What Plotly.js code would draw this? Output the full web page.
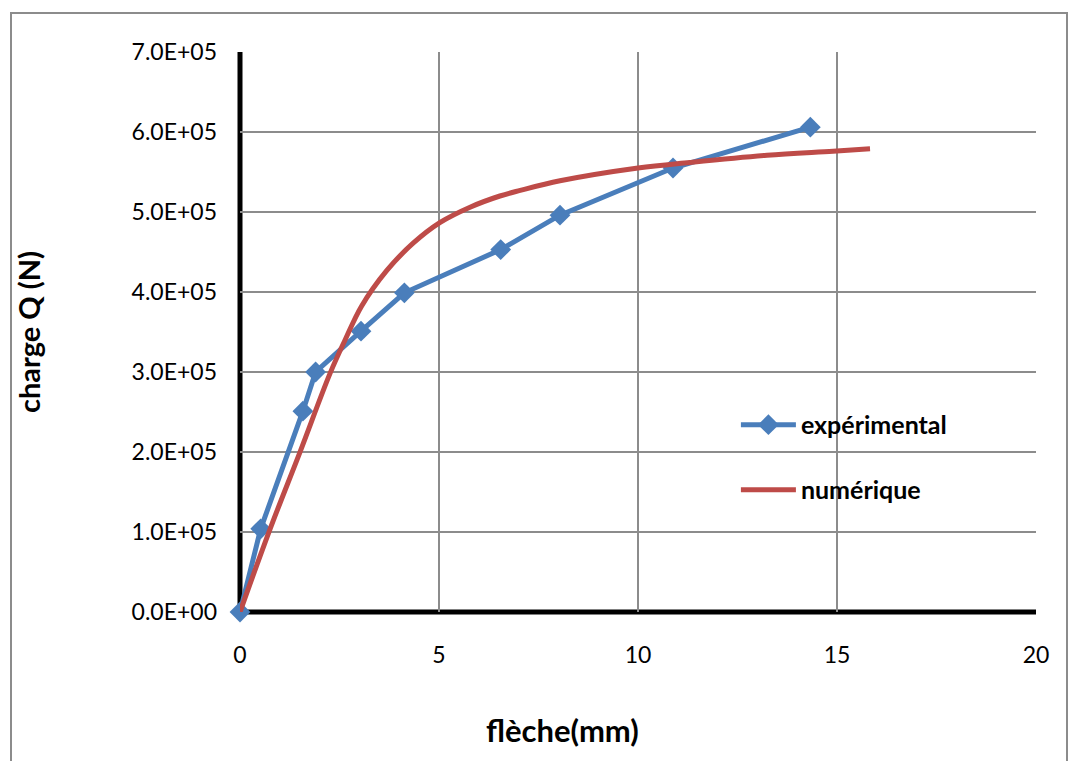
<!DOCTYPE html>
<html>
<head>
<meta charset="utf-8">
<script src="https://cdn.plot.ly/plotly-3.0.1.min.js"></script>
<style>html,body{margin:0;padding:0;background:#fff;}#chart{width:1069px;height:761px;}</style>
</head>
<body>
<div id="chart"></div>
<script>
// Experimental series
const expX = [0, 0.52, 1.58, 1.9, 3.04, 4.13, 6.55, 8.04, 10.88, 14.33];
const expY = [0, 1.04e5, 2.51e5, 3.0e5, 3.51e5, 3.99e5, 4.53e5, 4.96e5, 5.55e5, 6.06e5];
// Numerical series
const numX = [0, 0.75, 1.5, 2.26, 2.64, 3.05, 3.69, 4.35, 5.03, 5.78, 6.53, 7.04, 8.04, 10.0, 11.3, 13.24, 14.9, 15.83];
const numY = [0, 1.03e5, 1.99e5, 2.98e5, 3.40e5, 3.82e5, 4.27e5, 4.61e5, 4.87e5, 5.06e5, 5.2e5, 5.27e5, 5.39e5, 5.55e5, 5.62e5, 5.71e5, 5.76e5, 5.79e5];
// Ticks
const yTickVals = [0, 1e5, 2e5, 3e5, 4e5, 5e5, 6e5, 7e5];
const yTickText = ["0.0E+00", "1.0E+05", "2.0E+05", "3.0E+05", "4.0E+05", "5.0E+05", "6.0E+05", "7.0E+05"];
const xTickVals = [0, 5, 10, 15, 20];

const FONT = "Lato, 'Open Sans', sans-serif";

const traces = [
  {
    x: expX, y: expY, type: 'scatter', mode: 'lines+markers', name: 'expérimental',
    line: {color: '#4a7ebb', width: 5},
    marker: {symbol: 'diamond', size: 16, color: '#4a7ebb'},
    legend: 'legend', cliponaxis: false
  },
  {
    x: numX, y: numY, type: 'scatter', mode: 'lines', name: 'numérique',
    line: {color: '#be4b48', width: 5, shape: 'spline', smoothing: 1},
    legend: 'legend2', cliponaxis: false
  }
];

const legFont = {family: FONT, size: 25, color: '#000', weight: 'bold'};

const layout = {
  width: 1069, height: 761,
  margin: {l: 240, r: 33, t: 52, b: 149},
  paper_bgcolor: '#fff', plot_bgcolor: '#fff',
  font: {family: FONT, color: '#000', size: 23},
  showlegend: true,
  legend: {x: 0.623, y: 0.334, xanchor: 'left', yanchor: 'middle', bgcolor: 'rgba(0,0,0,0)',
           itemwidth: 55, font: legFont},
  legend2: {x: 0.623, y: 0.218, xanchor: 'left', yanchor: 'middle', bgcolor: 'rgba(0,0,0,0)',
           itemwidth: 55, font: legFont},
  xaxis: {
    range: [0, 20], tickvals: xTickVals, ticks: '', showline: false, zeroline: false,
    showgrid: true, gridcolor: '#8c8c8c', gridwidth: 1.5,
    tickfont: {family: FONT, size: 23}, ticklabelstandoff: 27
  },
  yaxis: {
    range: [0, 7e5], tickvals: yTickVals, ticktext: yTickText, ticks: '', showline: false, zeroline: false,
    showgrid: true, gridcolor: '#8c8c8c', gridwidth: 1.5,
    tickfont: {family: FONT, size: 23}, ticklabelstandoff: 22,
    title: {text: '<b>charge Q (N)</b>', font: {family: FONT, size: 29}, standoff: 82}
  },
  annotations: [
    {text: '<b>flèche(mm)</b>', xref: 'paper', yref: 'paper', x: (562 - 240) / 796, y: (612 - 730) / 560,
     xanchor: 'center', yanchor: 'middle', showarrow: false, font: {family: FONT, size: 31, color: '#000'}}
  ],
  shapes: [
    {type: 'line', xref: 'paper', yref: 'paper', x0: 0, x1: 1, y0: 0, y1: 0, line: {color: '#000', width: 5}, layer: 'below'},
    {type: 'line', xref: 'paper', yref: 'paper', x0: 0, x1: 0, y0: 0, y1: 1, line: {color: '#000', width: 5}, layer: 'below'},
    {type: 'rect', xref: 'paper', yref: 'paper',
     x0: (11 - 240) / 796, x1: (1067 - 240) / 796, y0: (612 - 770) / 560, y1: (612 - 13) / 560,
     line: {color: '#8c8c8c', width: 2}, fillcolor: 'rgba(0,0,0,0)'}
  ]
};

Plotly.newPlot('chart', traces, layout, {displayModeBar: false, staticPlot: true});
</script>
</body>
</html>
